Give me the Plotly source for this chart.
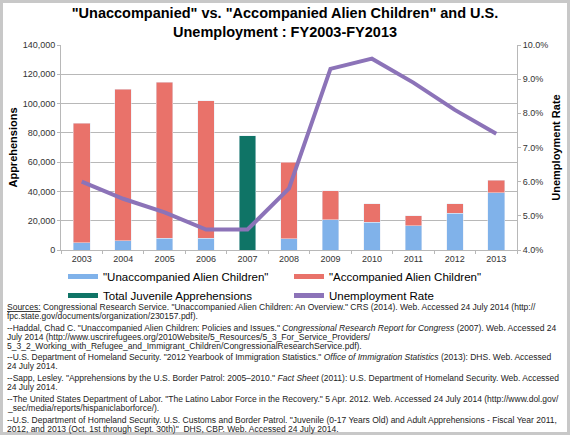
import plotly.graph_objects as go
from plotly.subplots import make_subplots

years = ['2003', '2004', '2005', '2006', '2007', '2008', '2009', '2010', '2011', '2012', '2013']
unaccompanied = [5000, 6400, 8000, 8000, None, 7700, 20500, 18900, 16600, 25000, 39200]
accompanied = [81500, 103300, 106700, 94000, None, 52200, 19800, 12700, 6800, 6600, 8600]
total_juvenile = [None, None, None, None, 77900, None, None, None, None, None, None]
unemployment = [6.0, 5.5, 5.1, 4.6, 4.6, 5.8, 9.3, 9.6, 8.9, 8.1, 7.4]

sources = [
    '<u>Sources:</u> Congressional Research Service. "Unaccompanied Alien Children: An Overview." CRS (2014). Web. Accessed 24 July 2014 (http://',
    'fpc.state.gov/documents/organization/230157.pdf).',
    '--Haddal, Chad C. "Unaccompanied Alien Children: Policies and Issues." <i>Congressional Research Report for Congress</i> (2007). Web. Accessed 24',
    'July 2014 (http://www.uscrirefugees.org/2010Website/5_Resources/5_3_For_Service_Providers/',
    '5_3_2_Working_with_Refugee_and_Immigrant_Children/CongressionalResearchService.pdf).',
    '--U.S. Department of Homeland Security. "2012 Yearbook of Immigration Statistics." <i>Office of Immigration Statistics</i> (2013): DHS. Web. Accessed',
    '24 July 2014.',
    '--Sapp, Lesley. "Apprehensions by the U.S. Border Patrol: 2005\u20132010." <i>Fact Sheet</i> (2011): U.S. Department of Homeland Security. Web. Accessed',
    '24 July 2014.',
    '--The United States Department of Labor. "The Latino Labor Force in the Recovery." 5 Apr. 2012. Web. Accessed 24 July 2014 (http://www.dol.gov/',
    '_sec/media/reports/hispaniclaborforce/).',
    '--U.S. Department of Homeland Security. U.S. Customs and Border Patrol. "Juvenile (0-17 Years Old) and Adult Apprehensions - Fiscal Year 2011,',
    '2012, and 2013 (Oct. 1st through Sept. 30th)"  DHS, CBP. Web. Accessed 24 July 2014.',
]
source_rows = [307, 316, 328, 337, 346, 357, 366, 378, 387, 399, 408, 420, 429]

BLUE = '#80B2EA'
RED = '#E9726A'
GREEN = '#0F7466'
PURPLE = '#8C73B8'
GRID = '#B8B8B8'
FONT = 'Arial, Liberation Sans, sans-serif'

# plot area in pixels (570x435 canvas)
L, R, T, B = 61, 517, 45, 250


def px_x(x):
    return (x - L) / (R - L)


def px_y(y):
    return (B - y) / (B - T)


fig = make_subplots(specs=[[{"secondary_y": True}]])

fig.add_trace(go.Bar(x=years, y=unaccompanied, marker_color=BLUE, showlegend=False,
                     name='"Unaccompanied Alien Children"'), secondary_y=False)
fig.add_trace(go.Bar(x=years, y=accompanied, marker_color=RED, showlegend=False,
                     name='"Accompanied Alien Children"'), secondary_y=False)
fig.add_trace(go.Bar(x=years, y=total_juvenile, marker_color=GREEN, showlegend=False,
                     name='Total Juvenile Apprehensions'), secondary_y=False)
fig.add_trace(go.Scatter(x=years, y=unemployment, mode='lines', showlegend=False,
                         line=dict(color=PURPLE, width=4), name='Unemployment Rate'),
              secondary_y=True)

# legend entries drawn as wide swatches
for name, color in [('"Unaccompanied Alien Children"', BLUE),
                    ('"Accompanied Alien Children"', RED),
                    ('Total Juvenile Apprehensions', GREEN),
                    ('Unemployment Rate', PURPLE)]:
    fig.add_trace(go.Scatter(x=[None], y=[None], mode='lines', name=name,
                             line=dict(color=color, width=5)), secondary_y=False)

fig.update_layout(
    width=570, height=435,
    margin=dict(l=L, r=570 - R, t=T, b=435 - B, autoexpand=False),
    paper_bgcolor='white', plot_bgcolor='white',
    barmode='stack', bargap=0.6,
    font=dict(family=FONT, color='#222222'),
    title=dict(text='"Unaccompanied" vs. "Accompanied Alien Children" and U.S.<br>Unemployment : FY2003-FY2013',
               x=0.5, xanchor='center', y=1 - 18 / 435, yanchor='middle', yref='container',
               font=dict(size=14.5, color='black', family=FONT, weight='bold')),
    legend=dict(orientation='h', x=px_x(63), xanchor='left', y=px_y(262), yanchor='top',
                traceorder='normal', entrywidth=181, entrywidthmode='pixels',
                font=dict(size=11.5, color='black'), bgcolor='rgba(0,0,0,0)'),
    showlegend=True,
)

fig.update_xaxes(type='category', domain=[0, 1], showline=True, linecolor=GRID, linewidth=1,
                 ticks='outside', ticklen=3, tickcolor=GRID, tickson='boundaries',
                 tickfont=dict(size=9, color='#333333'), showgrid=False)
fig.update_yaxes(range=[0, 140000], dtick=20000, tickformat=',', showline=True, linecolor=GRID,
                 ticks='outside', ticklen=3, tickcolor=GRID, gridcolor=GRID, gridwidth=1,
                 tickfont=dict(size=9, color='#333333'), zeroline=False,
                 title=dict(text='<b>Apprehensions</b>', font=dict(size=11, color='black'), standoff=2),
                 secondary_y=False)
fig.update_yaxes(range=[4, 10], dtick=1, tickformat='.1f', ticksuffix='%', showline=True,
                 linecolor=GRID, ticks='outside', ticklen=3, tickcolor=GRID, showgrid=False,
                 tickfont=dict(size=9, color='#333333'), zeroline=False,
                 title=dict(text='<b>Unemployment Rate</b>', font=dict(size=11, color='black'), standoff=4),
                 secondary_y=True)

for text, row in zip(sources, source_rows):
    fig.add_annotation(text=text, xref='paper', yref='paper', x=px_x(5), y=px_y(row),
                       xanchor='left', yanchor='middle', showarrow=False, align='left',
                       font=dict(size=8.5, color='#222222', family=FONT))

# light grey frame round the picture
fig.add_shape(type='rect', xref='paper', yref='paper', x0=px_x(1.5), x1=px_x(568.5),
              y0=px_y(433.5), y1=px_y(1.5), line=dict(color='#C8C8C8', width=3), layer='below')

# page body has an 8px default margin; drop it so the figure sits at the corner
fig.write_html("out.html", config={'displayModeBar': False},
               post_script="document.body.style.margin='0';")
